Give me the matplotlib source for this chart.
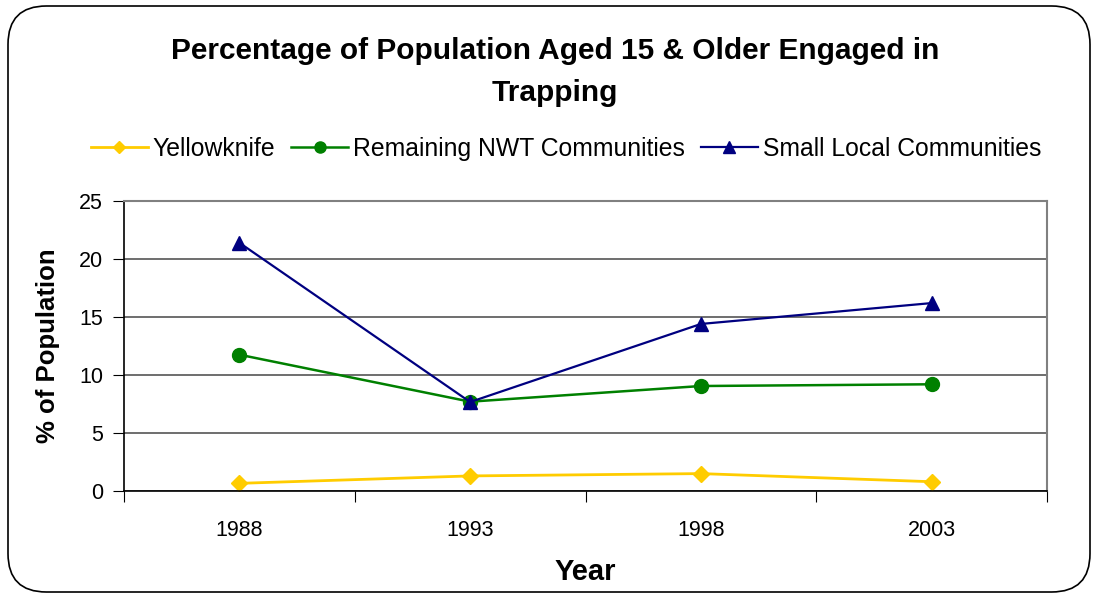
import matplotlib
matplotlib.use("Agg")
import matplotlib.pyplot as plt
from matplotlib.patches import FancyBboxPatch

plt.rcParams['font.family'] = ['Liberation Sans', 'DejaVu Sans']

years = ["1988", "1993", "1998", "2003"]
yellowknife = [0.66, 1.3, 1.5, 0.8]
remaining_nwt = [11.75, 7.7, 9.05, 9.2]
small_local = [21.4, 7.67, 14.4, 16.2]
y_ticks = [0, 5, 10, 15, 20, 25]

fig = plt.figure(figsize=(10.98, 5.98), dpi=100)
ax = fig.add_axes([124 / 1098, 1 - 491 / 598, (1047 - 124) / 1098, (491 - 201) / 598])

# rounded chart border
border = FancyBboxPatch((8 / 1098, 6 / 598), 1082 / 1098, 586 / 598,
                        boxstyle="round,pad=0,rounding_size=0.035",
                        transform=fig.transFigure, fill=False,
                        edgecolor="black", linewidth=1.2,
                        mutation_aspect=1098 / 598)
fig.patches.append(border)

x = range(len(years))
ax.plot(x, yellowknife, color="#FFCC00", marker="D", markersize=8, linewidth=2,
        label="Yellowknife")
ax.plot(x, remaining_nwt, color="#008000", marker="o", markersize=10, linewidth=1.8,
        label="Remaining NWT Communities")
ax.plot(x, small_local, color="#000080", marker="^", markersize=10, linewidth=1.6,
        label="Small Local Communities")

ax.set_xlim(-0.5, len(years) - 0.5)
ax.set_ylim(0, 25)
ax.set_yticks(y_ticks)
ax.set_yticklabels([str(t) for t in y_ticks], fontsize=15.5)
ax.set_xticks([i - 0.5 for i in range(len(years) + 1)], minor=False)
ax.set_xticklabels([])
ax.set_xticks(list(x), minor=True)
ax.set_xticklabels(years, minor=True, fontsize=15.5)
ax.tick_params(axis="x", which="minor", length=0, pad=21)
ax.tick_params(axis="x", which="major", length=8, direction="out", color="black")
ax.tick_params(axis="y", length=8, direction="out", color="black", pad=7)

ax.yaxis.grid(True, color="#555555", linewidth=1.2)
ax.set_axisbelow(True)
for side in ("top", "right"):
    ax.spines[side].set_color("#808080")
    ax.spines[side].set_linewidth(1.5)
for side in ("left", "bottom"):
    ax.spines[side].set_color("black")
    ax.spines[side].set_linewidth(1.2)

ax.set_xlabel("Year", fontsize=21, fontweight="bold", labelpad=12)
ax.set_ylabel("% of Population", fontsize=18.5, fontweight="bold", labelpad=14)

fig.text(555 / 1098, 1 - 72 / 598,
         "Percentage of Population Aged 15 & Older Engaged in\nTrapping",
         ha="center", va="center", fontsize=21.5, fontweight="bold",
         linespacing=1.65)

handles, labels = ax.get_legend_handles_labels()
fig.legend(handles, labels, loc="center", bbox_to_anchor=(566 / 1098, 1 - 149 / 598),
           ncol=3, frameon=False, fontsize=17.8, handlelength=2.3,
           handletextpad=0.2, columnspacing=0.65, markerscale=0.8)

fig.savefig("out.png", dpi=100, facecolor="white")
